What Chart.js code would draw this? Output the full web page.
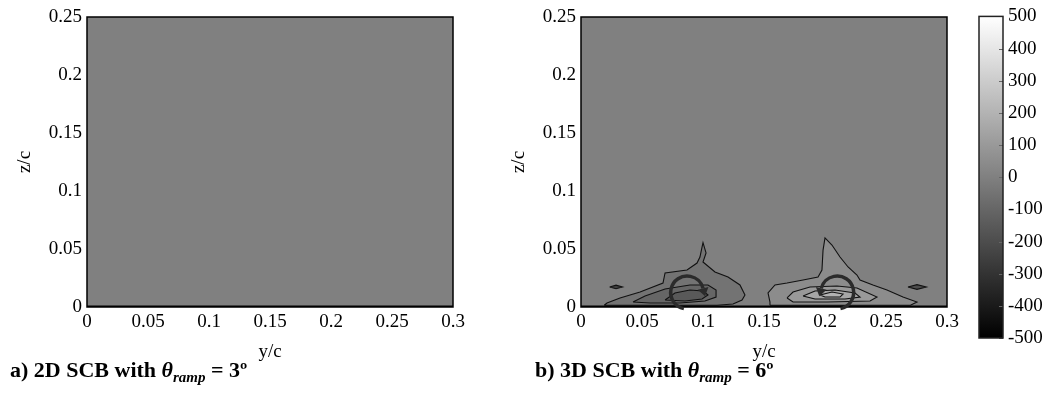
<!DOCTYPE html>
<html>
<head>
<meta charset="utf-8">
<script src="https://cdn.jsdelivr.net/npm/chart.js@4.4.1/dist/chart.umd.min.js"></script>
<style>
  html, body { margin: 0; background: #fff; }
  body { width: 1053px; height: 400px; position: relative; overflow: hidden; }
  canvas { position: absolute; top: 0; }
  .caption { position: absolute; top: 357px; font: bold 22px "Liberation Serif", serif; color: #000; white-space: nowrap; }
  .caption sub { font-size: 15px; }
</style>
</head>
<body>
<canvas id="panelA" width="480" height="365" style="left:0"></canvas>
<canvas id="panelB" width="470" height="365" style="left:494px"></canvas>
<canvas id="colorBar" width="88" height="360" style="left:965px"></canvas>
<div class="caption" style="left:10px">a) 2D SCB with <i>θ<sub>ramp</sub></i> = 3º</div>
<div class="caption" style="left:535px">b) 3D SCB with <i>θ<sub>ramp</sub></i> = 6º</div>
<script>
// axis ticks (span y/c, height z/c, colour scale)
const spanTicks = [0, 0.05, 0.1, 0.15, 0.2, 0.25, 0.3];
const spanTickLabels = ['0', '0.05', '0.1', '0.15', '0.2', '0.25', '0.3'];
const heightTicks = [0, 0.05, 0.1, 0.15, 0.2, 0.25];
const heightTickLabels = ['0', '0.05', '0.1', '0.15', '0.2', '0.25'];
const colorTicks = [-500, -400, -300, -200, -100, 0, 100, 200, 300, 400, 500];
const colorTickLabels = ['-500', '-400', '-300', '-200', '-100', '0', '100', '200', '300', '400', '500'];

// vorticity contours of the 3D case, [y/c, z/c] pairs
const negOuter = [[0.019, 0.0015], [0.0213, 0.0034], [0.032, 0.0078], [0.0484, 0.0129], [0.0672, 0.0207],
  [0.0689, 0.0293], [0.0869, 0.0319], [0.0951, 0.0379], [0.0975, 0.0431], [0.0992, 0.0517], [0.1, 0.0555],
  [0.1025, 0.0466], [0.1, 0.0388], [0.1098, 0.0302], [0.1205, 0.0259], [0.1303, 0.019], [0.1344, 0.0103],
  [0.132, 0.006], [0.1246, 0.0026], [0.1115, 0.0015]];
const negMid = [[0.0426, 0.0043], [0.0525, 0.0095], [0.0689, 0.0155], [0.0893, 0.019], [0.1041, 0.019],
  [0.1107, 0.0147], [0.1107, 0.0086], [0.1016, 0.0052], [0.0811, 0.0034], [0.0566, 0.0034]];
const negInner = [[0.0689, 0.006], [0.077, 0.0121], [0.0893, 0.0147], [0.1, 0.0138], [0.1041, 0.0103],
  [0.0992, 0.0069], [0.0852, 0.0052]];
const negSpotLeft = [[0.0235, 0.0172], [0.0287, 0.0188], [0.034, 0.0172], [0.0287, 0.0157]];
const negSpotRight = [[0.268, 0.0172], [0.2754, 0.0193], [0.283, 0.0172], [0.2754, 0.0152]];

const posOuter = [[0.1549, 0.0015], [0.1549, 0.0043], [0.1533, 0.0121], [0.159, 0.019], [0.1689, 0.0207],
  [0.182, 0.0233], [0.1943, 0.0259], [0.1975, 0.0319], [0.1984, 0.0491], [0.2, 0.0595], [0.2057, 0.0534],
  [0.2123, 0.0431], [0.2189, 0.0345], [0.2262, 0.0276], [0.2287, 0.0233], [0.2393, 0.019], [0.2508, 0.0147],
  [0.2639, 0.0086], [0.2754, 0.0043], [0.27, 0.0015]];
const posMid = [[0.1689, 0.0078], [0.1738, 0.0129], [0.1877, 0.0172], [0.2098, 0.0181], [0.2262, 0.0164],
  [0.2426, 0.0086], [0.2369, 0.0052], [0.2016, 0.0043], [0.1738, 0.0043]];
const posInner = [[0.182, 0.0095], [0.1918, 0.0138], [0.2082, 0.0147], [0.2246, 0.0121], [0.2287, 0.0086],
  [0.2164, 0.0069], [0.1918, 0.0069]];
const posCore = [[0.1959, 0.0103], [0.2057, 0.0129], [0.2148, 0.0112], [0.2123, 0.0086], [0.2, 0.0086]];

// contour level of each shape above, drawn in this order
const contourShapes = [negOuter, negMid, negInner, negSpotLeft, negSpotRight, posOuter, posMid, posInner, posCore];
const contourLevels = [-50, -100, -150, -250, -200, 50, 100, 150, 200];

// vortex cores with their sense of rotation (1 = clockwise as seen)
const vortexSpan = [0.087, 0.21];
const vortexHeight = [0.0125, 0.0125];
const vortexRadius = [0.0135, 0.0135];
const vortexSpin = [1, -1];

const cMin = colorTicks[0];
const cMax = colorTicks[colorTicks.length - 1];

function gray(v) {
  const g = Math.round((v - cMin) / (cMax - cMin) * 255);
  return `rgb(${g},${g},${g})`;
}

const serif = '"Liberation Serif", serif';
const tickFont = { family: serif, size: 19 };

const panelPlugin = {
  id: 'panel',
  beforeDraw(chart) {
    const { ctx, chartArea: a } = chart;
    ctx.save();
    ctx.fillStyle = gray(0);
    ctx.fillRect(a.left, a.top, a.right - a.left, a.bottom - a.top);
    ctx.restore();
  },
  afterDatasetsDraw(chart, args, opts) {
    const { ctx, chartArea: a, scales: { x, y } } = chart;
    ctx.save();
    ctx.strokeStyle = '#000';
    ctx.lineWidth = 1.5;
    ctx.strokeRect(a.left, a.top, a.right - a.left, a.bottom - a.top);
    if (opts.vortices) {
      ctx.strokeStyle = '#2b2b2b';
      ctx.fillStyle = '#2b2b2b';
      ctx.lineWidth = 3.5;
      vortexSpan.forEach((s, i) => {
        const cx = x.getPixelForValue(s);
        const cy = y.getPixelForValue(vortexHeight[i]);
        const r = x.getPixelForValue(s + vortexRadius[i]) - cx;
        const cw = vortexSpin[i] > 0;
        const start = cw ? Math.PI / 2 + 0.2 : Math.PI / 2 - 0.2;
        const end = cw ? 2 * Math.PI - 0.25 : -Math.PI + 0.25;
        ctx.beginPath();
        ctx.arc(cx, cy, r, start, end, !cw);
        ctx.stroke();
        // arrow head at the end of the arc
        const ex = cx + r * Math.cos(end);
        const ey = cy + r * Math.sin(end);
        const tx = cw ? -Math.sin(end) : Math.sin(end);
        const ty = cw ? Math.cos(end) : -Math.cos(end);
        ctx.beginPath();
        ctx.moveTo(ex + tx * 8, ey + ty * 8);
        ctx.lineTo(ex + ty * 5.5, ey - tx * 5.5);
        ctx.lineTo(ex - ty * 5.5, ey + tx * 5.5);
        ctx.closePath();
        ctx.fill();
      });
    }
    ctx.restore();
  }
};

const colorBarPlugin = {
  id: 'colorBar',
  beforeDraw(chart) {
    const { ctx, chartArea: a, scales: { y } } = chart;
    const top = y.getPixelForValue(cMax);
    const bottom = y.getPixelForValue(cMin);
    const grad = ctx.createLinearGradient(0, top, 0, bottom);
    colorTicks.forEach(v => grad.addColorStop((cMax - v) / (cMax - cMin), gray(v)));
    ctx.save();
    ctx.fillStyle = grad;
    ctx.fillRect(a.left, top, a.right - a.left, bottom - top);
    ctx.strokeStyle = '#666';
    ctx.lineWidth = 1;
    colorTicks.forEach(v => {
      const py = Math.round(y.getPixelForValue(v)) + 0.5;
      ctx.beginPath();
      ctx.moveTo(a.right - 4, py);
      ctx.lineTo(a.right, py);
      ctx.stroke();
    });
    ctx.strokeStyle = '#222';
    ctx.lineWidth = 1.5;
    ctx.strokeRect(a.left, top, a.right - a.left, bottom - top);
    ctx.restore();
  }
};

function wallLine() {
  return {
    data: [{ x: 0, y: 0 }, { x: 0.3, y: 0 }],
    borderColor: '#000', borderWidth: 3, pointRadius: 0, fill: false, order: 0
  };
}

function contourSets() {
  return contourShapes.map((pts, i) => ({
    data: pts.concat([pts[0]]).map(p => ({ x: p[0], y: p[1] })),
    borderColor: '#111',
    borderWidth: 1.1,
    backgroundColor: gray(contourLevels[i]),
    fill: 'shape',
    pointRadius: 0,
    tension: 0,
    order: contourShapes.length - i
  }));
}

function panelOptions(rightPad, vortices) {
  return {
    responsive: false,
    animation: false,
    events: [],
    indexAxis: 'y',
    layout: { padding: { top: 17, right: rightPad, left: 0, bottom: 0 } },
    plugins: {
      legend: { display: false },
      tooltip: { enabled: false },
      panel: { vortices: vortices }
    },
    scales: {
      x: {
        type: 'linear', min: 0, max: 0.3,
        grid: { display: false, drawTicks: false },
        border: { display: false },
        afterBuildTicks: s => { s.ticks = spanTicks.map(v => ({ value: v })); },
        afterFit: s => { s.height = 58; },
        ticks: { padding: 4, color: '#000', font: tickFont, maxRotation: 0, autoSkip: false,
          callback: (v, i) => spanTickLabels[i] },
        title: { display: true, text: 'y/c', color: '#000', font: tickFont, padding: { top: 0, bottom: 2 } }
      },
      y: {
        type: 'linear', min: 0, max: 0.25,
        grid: { display: false, drawTicks: false },
        border: { display: false },
        afterBuildTicks: s => { s.ticks = heightTicks.map(v => ({ value: v })); },
        afterFit: s => { s.width = 87; },
        ticks: { padding: 5, color: '#000', font: tickFont, autoSkip: false,
          callback: (v, i) => heightTickLabels[i] },
        title: { display: true, text: 'z/c', color: '#000', font: tickFont, padding: { top: 14, bottom: 0 } }
      }
    }
  };
}

new Chart(document.getElementById('panelA'), {
  type: 'line',
  data: { datasets: [wallLine()] },
  options: panelOptions(27, false),
  plugins: [panelPlugin]
});

new Chart(document.getElementById('panelB'), {
  type: 'line',
  data: { datasets: contourSets().concat([wallLine()]) },
  options: panelOptions(17, true),
  plugins: [panelPlugin]
});

new Chart(document.getElementById('colorBar'), {
  type: 'line',
  data: { datasets: [] },
  options: {
    responsive: false,
    animation: false,
    events: [],
    layout: { padding: { top: 13, right: 0, left: 14, bottom: 22 } },
    plugins: { legend: { display: false }, tooltip: { enabled: false } },
    scales: {
      x: { type: 'linear', display: false, min: 0, max: 1 },
      y: {
        type: 'linear', position: 'right', min: cMin, max: cMax,
        grid: { display: false, drawTicks: false },
        border: { display: false },
        afterBuildTicks: s => { s.ticks = colorTicks.map(v => ({ value: v })); },
        afterFit: s => { s.width = 50; },
        ticks: { padding: 5, color: '#000', font: tickFont, autoSkip: false,
          callback: (v, i) => colorTickLabels[i] }
      }
    }
  },
  plugins: [colorBarPlugin]
});
</script>
</body>
</html>
